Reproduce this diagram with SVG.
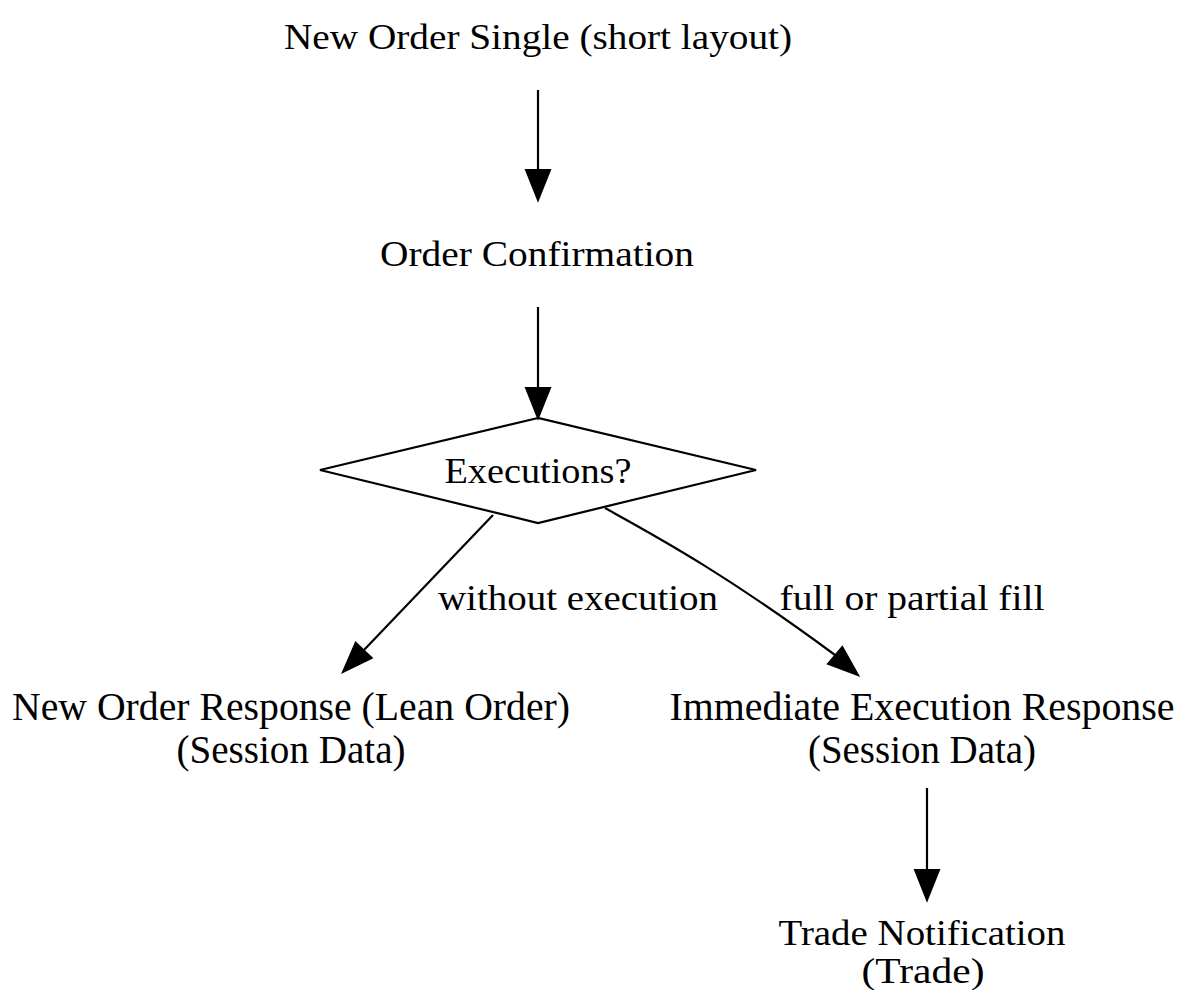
<svg xmlns="http://www.w3.org/2000/svg" width="1180" height="990" viewBox="0 0 1180 990">
<defs>
<style>
.e line,.e path{stroke:#000;stroke-width:2.2;fill:none}
.e polygon{fill:#000;stroke:#000;stroke-width:2}
</style>
</defs>
<rect width="1180" height="990" fill="#fff"/>
<g id="node-nos"><text font-family="Liberation Serif" font-size="36" text-anchor="middle" x="538" y="49" textLength="508" lengthAdjust="spacingAndGlyphs">New Order Single (short layout)</text></g>
<g id="node-confirm"><text font-family="Liberation Serif" font-size="36" text-anchor="middle" x="537" y="266" textLength="314" lengthAdjust="spacingAndGlyphs">Order Confirmation</text></g>
<g id="node-exec"><polygon points="538,418 320,470 538,523 756,470" fill="#fff" stroke="#000" stroke-width="2.2"/><text font-family="Liberation Serif" font-size="36" text-anchor="middle" x="538" y="483" textLength="187" lengthAdjust="spacingAndGlyphs">Executions?</text></g>
<g id="node-lean"><text font-family="Liberation Serif" font-size="40" text-anchor="middle" x="291" y="720" textLength="558" lengthAdjust="spacingAndGlyphs">New Order Response (Lean Order)</text><text font-family="Liberation Serif" font-size="40" text-anchor="middle" x="291" y="763" textLength="229" lengthAdjust="spacingAndGlyphs">(Session Data)</text></g>
<g id="node-immediate"><text font-family="Liberation Serif" font-size="40" text-anchor="middle" x="922" y="720" textLength="505" lengthAdjust="spacingAndGlyphs">Immediate Execution Response</text><text font-family="Liberation Serif" font-size="40" text-anchor="middle" x="922" y="763" textLength="228" lengthAdjust="spacingAndGlyphs">(Session Data)</text></g>
<g id="node-trade"><text font-family="Liberation Serif" font-size="36" text-anchor="middle" x="922" y="945" textLength="287" lengthAdjust="spacingAndGlyphs">Trade Notification</text><text font-family="Liberation Serif" font-size="36" text-anchor="middle" x="923" y="983" textLength="123" lengthAdjust="spacingAndGlyphs">(Trade)</text></g>
<g id="connectors" class="e">
<line x1="538" y1="90" x2="538" y2="170"/><polygon points="526,170 538,200 550,170"/>
<line x1="538" y1="307" x2="538" y2="388"/><polygon points="526,388 538,418 550,388"/>
<line x1="493" y1="515" x2="364" y2="650"/><polygon points="371.7,657.9 355.7,642.7 343,672"/>
<path d="M605,508 C650,533 720,570 835,655"/><polygon points="828,663.9 842.3,647.1 858,675"/>
<line x1="927" y1="788" x2="927" y2="870"/><polygon points="915,870 927,900 939,870"/>
<text font-family="Liberation Serif" font-size="36" text-anchor="middle" x="578" y="610" textLength="280" lengthAdjust="spacingAndGlyphs">without execution</text>
<text font-family="Liberation Serif" font-size="36" text-anchor="middle" x="912" y="610" textLength="265" lengthAdjust="spacingAndGlyphs">full or partial fill</text>
</g>
</svg>
